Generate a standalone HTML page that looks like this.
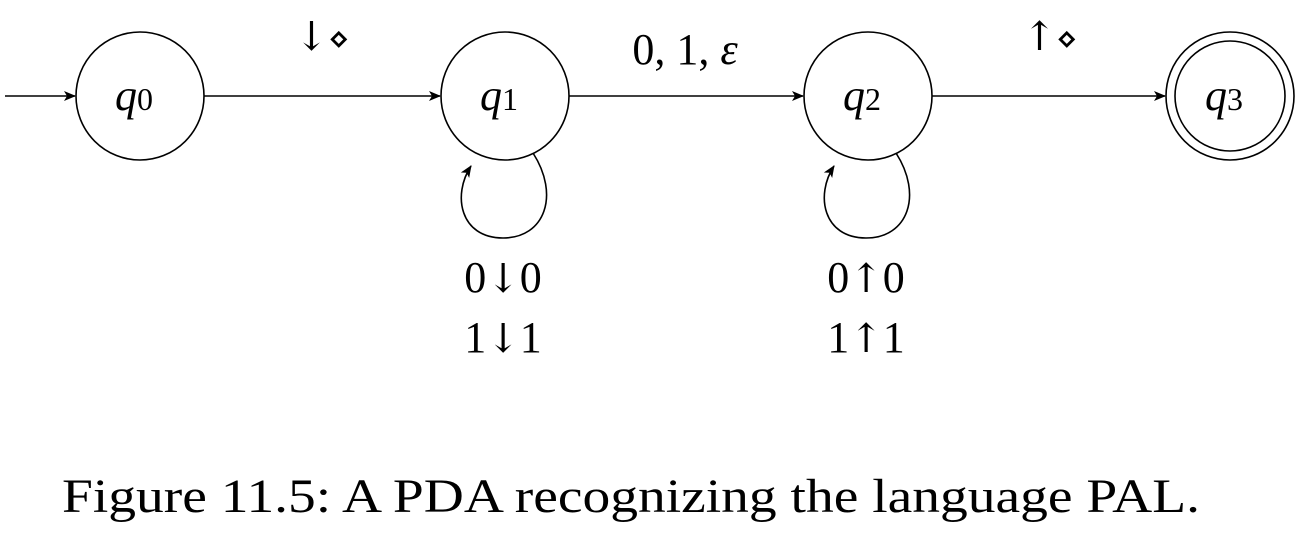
<!DOCTYPE html>
<html><head><meta charset="utf-8"><style>
html,body{margin:0;padding:0;background:#fff;width:1310px;height:548px;overflow:hidden}
text{font-family:"Liberation Serif","DejaVu Serif",serif;fill:#000}
.ar{font-family:"DejaVu Serif",serif;font-size:40px}
</style></head><body>
<svg width="1310" height="548" viewBox="0 0 1310 548">
<defs><marker id="ah" markerWidth="12" markerHeight="10" refX="11" refY="5" orient="auto" markerUnits="userSpaceOnUse"><path d="M0,0 L12,5 L0,10 L3,5 Z" fill="#000"/></marker></defs>
<g stroke="#000" stroke-width="1.6" fill="none">
<line x1="5" y1="96" x2="75" y2="96" marker-end="url(#ah)"/>
<circle cx="140" cy="96" r="64"/>
<circle cx="505" cy="96" r="64"/>
<circle cx="868" cy="96" r="64"/>
<circle cx="1230" cy="96" r="64"/>
<circle cx="1230" cy="96" r="55"/>
<line x1="204" y1="96" x2="440" y2="96" marker-end="url(#ah)"/>
<line x1="569" y1="96" x2="803" y2="96" marker-end="url(#ah)"/>
<line x1="932" y1="96" x2="1165" y2="96" marker-end="url(#ah)"/>
<path d="M533,153 C560,195 545,238 503,238 C460,238 452,195 471,166" marker-end="url(#ah)"/>
<path d="M896,153 C923,195 908,238 866,238 C823,238 815,195 834,166" marker-end="url(#ah)"/>
</g>
<g font-size="44" font-style="italic" text-anchor="middle">
<text x="134" y="110">q<tspan font-style="normal" font-size="32">0</tspan></text>
<text x="499" y="110">q<tspan font-style="normal" font-size="32">1</tspan></text>
<text x="862" y="110">q<tspan font-style="normal" font-size="32">2</tspan></text>
<text x="1224" y="110">q<tspan font-style="normal" font-size="32">3</tspan></text>
</g>
<g font-size="44" text-anchor="middle">
<text x="322" y="50"><tspan class="ar">↓</tspan><tspan font-size="34" font-family="DejaVu Sans">⋄</tspan></text>
<text x="685" y="64">0, 1, <tspan font-style="italic">ε</tspan></text>
<text x="1050" y="50"><tspan class="ar">↑</tspan><tspan font-size="34" font-family="DejaVu Sans">⋄</tspan></text>
<text x="503" y="292">0<tspan class="ar">↓</tspan>0</text>
<text x="503" y="352">1<tspan class="ar">↓</tspan>1</text>
<text x="866" y="292">0<tspan class="ar">↑</tspan>0</text>
<text x="866" y="352">1<tspan class="ar">↑</tspan>1</text>
<text x="62" y="512" text-anchor="start" font-size="48" textLength="1138" lengthAdjust="spacingAndGlyphs">Figure 11.5: A PDA recognizing the language PAL.</text>
</g>
</svg>
</body></html>
